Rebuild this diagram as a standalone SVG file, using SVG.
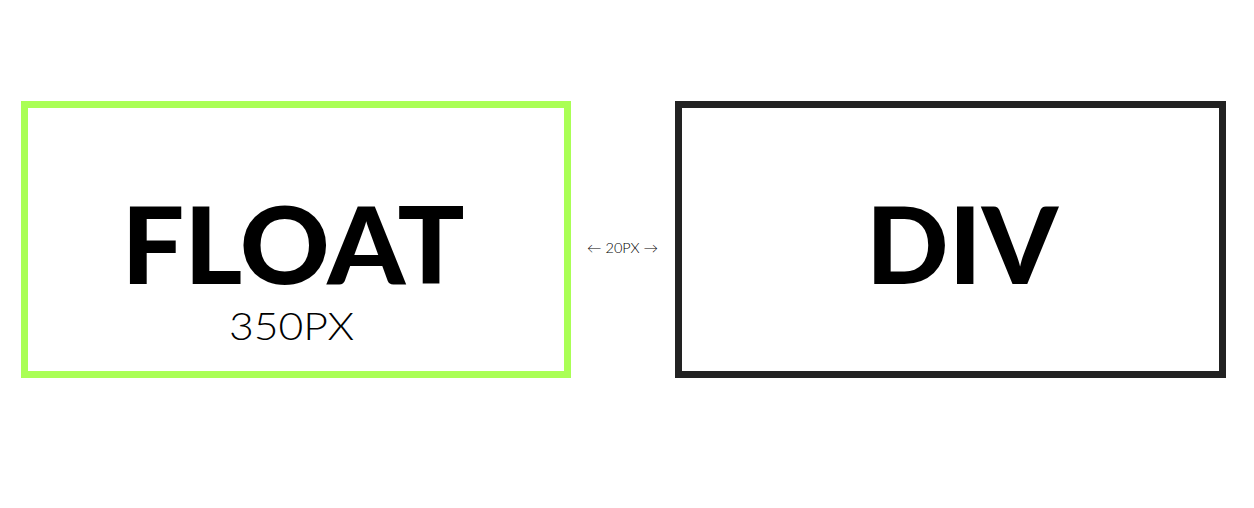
<svg xmlns="http://www.w3.org/2000/svg" width="1254" height="508" viewBox="0 0 1254 508">
<style>
.big{font-family:Lato,"Liberation Sans",sans-serif;font-weight:900;font-size:107px;fill:#000}
.thin{font-family:Lato,"Liberation Sans",sans-serif;font-weight:300;fill:#000}
</style>
<rect width="1254" height="508" fill="#fff"/>
<g id="float">
<rect x="24.5" y="104.5" width="543" height="270" fill="none" stroke="#aaff55" stroke-width="7"/>
<text class="big" x="293" y="284" text-anchor="middle" textLength="343" lengthAdjust="spacingAndGlyphs">FLOAT</text>
<text class="thin" x="291.5" y="340" font-size="37" text-anchor="middle" textLength="125" lengthAdjust="spacingAndGlyphs">350PX</text>
</g>
<g id="div">
<rect x="678.5" y="104.5" width="544" height="270" fill="none" stroke="#222" stroke-width="7"/>
<text class="big" x="962" y="284" text-anchor="middle" textLength="192" lengthAdjust="spacingAndGlyphs">DIV</text>
</g>
<g id="connectors">
<text class="thin" x="622.5" y="253" font-size="14" fill="#333" text-anchor="middle" textLength="71" lengthAdjust="spacingAndGlyphs">← 20PX →</text>
</g>
</svg>
